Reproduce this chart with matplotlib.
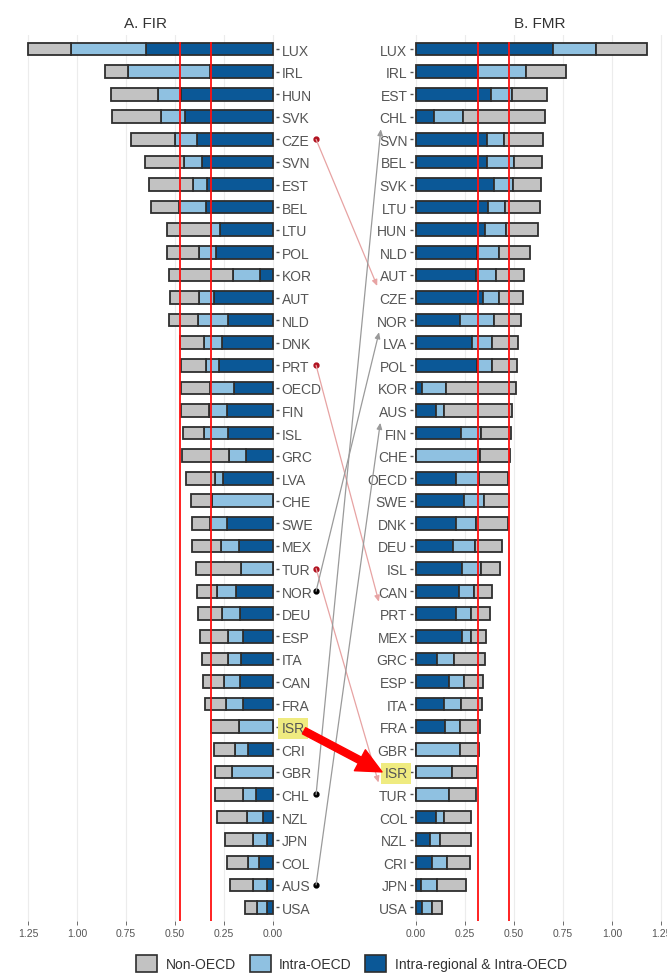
import matplotlib
matplotlib.use("Agg")
import matplotlib.pyplot as plt
from matplotlib.patches import Patch, ConnectionPatch
from matplotlib.transforms import blended_transform_factory

plt.rcParams["font.family"] = ["Liberation Sans", "DejaVu Sans"]

# ---- data (shares) ----
fir_countries = ["LUX", "IRL", "HUN", "SVK", "CZE", "SVN", "EST", "BEL", "LTU", "POL",
                 "KOR", "AUT", "NLD", "DNK", "PRT", "OECD", "FIN", "ISL", "GRC", "LVA",
                 "CHE", "SWE", "MEX", "TUR", "NOR", "DEU", "ESP", "ITA", "CAN", "FRA",
                 "ISR", "CRI", "GBR", "CHL", "NZL", "JPN", "COL", "AUS", "USA"]
fir_regional = [0.65, 0.32, 0.47, 0.45, 0.39, 0.36, 0.335, 0.34, 0.27, 0.29,
                0.065, 0.30, 0.23, 0.26, 0.275, 0.20, 0.235, 0.23, 0.14, 0.255,
                0.0, 0.235, 0.175, 0.0, 0.19, 0.17, 0.155, 0.165, 0.17, 0.155,
                0.0, 0.125, 0.0, 0.085, 0.05, 0.03, 0.07, 0.03, 0.03]
fir_intra = [0.38, 0.42, 0.115, 0.12, 0.11, 0.095, 0.075, 0.14, 0.045, 0.085,
             0.14, 0.075, 0.15, 0.09, 0.065, 0.12, 0.09, 0.12, 0.085, 0.04,
             0.31, 0.085, 0.09, 0.165, 0.095, 0.09, 0.075, 0.065, 0.08, 0.085,
             0.175, 0.07, 0.21, 0.07, 0.085, 0.07, 0.06, 0.07, 0.05]
fir_non = [0.22, 0.115, 0.24, 0.25, 0.225, 0.2, 0.22, 0.14, 0.225, 0.165,
           0.325, 0.15, 0.15, 0.125, 0.13, 0.15, 0.145, 0.11, 0.24, 0.15,
           0.11, 0.095, 0.15, 0.23, 0.105, 0.12, 0.14, 0.13, 0.105, 0.105,
           0.14, 0.105, 0.085, 0.14, 0.15, 0.145, 0.105, 0.12, 0.065]

fmr_countries = ["LUX", "IRL", "EST", "CHL", "SVN", "BEL", "SVK", "LTU", "HUN", "NLD",
                 "AUT", "CZE", "NOR", "LVA", "POL", "KOR", "AUS", "FIN", "CHE", "OECD",
                 "SWE", "DNK", "DEU", "ISL", "CAN", "PRT", "MEX", "GRC", "ESP", "ITA",
                 "FRA", "GBR", "ISR", "TUR", "COL", "NZL", "CRI", "JPN", "USA"]
fmr_regional = [0.70, 0.315, 0.385, 0.09, 0.36, 0.36, 0.40, 0.37, 0.35, 0.31,
                0.305, 0.34, 0.225, 0.285, 0.31, 0.03, 0.10, 0.23, 0.0, 0.205,
                0.245, 0.205, 0.19, 0.235, 0.22, 0.205, 0.235, 0.105, 0.17, 0.145,
                0.15, 0.0, 0.0, 0.0, 0.10, 0.07, 0.08, 0.025, 0.03]
fmr_intra = [0.22, 0.245, 0.105, 0.15, 0.09, 0.14, 0.095, 0.085, 0.11, 0.115,
             0.105, 0.085, 0.175, 0.105, 0.08, 0.125, 0.045, 0.10, 0.325, 0.115,
             0.10, 0.10, 0.11, 0.095, 0.075, 0.075, 0.045, 0.09, 0.075, 0.085,
             0.075, 0.225, 0.185, 0.17, 0.045, 0.05, 0.08, 0.08, 0.05]
fmr_non = [0.26, 0.205, 0.18, 0.42, 0.20, 0.145, 0.145, 0.18, 0.165, 0.155,
           0.14, 0.12, 0.135, 0.13, 0.125, 0.355, 0.345, 0.155, 0.155, 0.15,
           0.13, 0.165, 0.14, 0.10, 0.095, 0.10, 0.075, 0.155, 0.095, 0.105,
           0.10, 0.095, 0.125, 0.135, 0.135, 0.16, 0.115, 0.15, 0.055]

ref_lines = [0.316, 0.474]
red_links = ["CZE", "PRT", "TUR"]
grey_links = ["NOR", "CHL", "AUS"]
highlight = "ISR"

legend_labels = ["Non-OECD", "Intra-OECD", "Intra-regional & Intra-OECD"]
c_non, c_intra, c_reg = "#c2c2c2", "#8fc1e1", "#0b5897"
edge = "#2e2e2e"
txt = "#555555"

fig = plt.figure(figsize=(6.67, 9.78), dpi=100)
W, H = 667, 978


def px_axes(x0, x1, y0, y1):
    return fig.add_axes([x0 / W, 1 - y1 / H, (x1 - x0) / W, (y1 - y0) / H])


axL = px_axes(14, 276, 36, 922)
axR = px_axes(413, 667, 36, 922)


def draw_panel(ax, countries, reg, intra, non, title):
    ypos = list(range(len(countries)))
    left3 = [a + b for a, b in zip(reg, intra)]
    kw = dict(height=0.56, edgecolor=edge, linewidth=1.3, zorder=3)
    ax.barh(ypos, reg, left=0, color=c_reg, **kw)
    ax.barh(ypos, intra, left=reg, color=c_intra, **kw)
    ax.barh(ypos, non, left=left3, color=c_non, **kw)
    ax.set_yticks(ypos)
    ax.set_yticklabels(countries, fontsize=10, color=txt)
    ax.set_ylim(38.6, -0.62)
    ax.set_xticks([0, 0.25, 0.5, 0.75, 1.0, 1.25])
    ax.set_xticklabels(["0.00", "0.25", "0.50", "0.75", "1.00", "1.25"])
    ax.tick_params(axis="x", labelsize=7.5, colors=txt, length=3, width=0.6, pad=2)
    ax.tick_params(axis="y", length=2.5, width=1.0, colors=txt, pad=1.5)
    ax.grid(axis="x", color="#ececec", linewidth=0.8, zorder=0)
    for s in ax.spines.values():
        s.set_visible(False)
    for v in ref_lines:
        ax.vlines(v, -0.31, 38.6, color="#ff1010", linewidth=1.3, zorder=5)
    ax.set_title(title, fontsize=11, color="#333333", pad=6)


def mark_label(ax):
    for t in ax.yaxis.get_major_ticks():
        for lab in (t.label1, t.label2):
            if lab.get_text() == highlight:
                lab.set_bbox(dict(facecolor="#efeb80", edgecolor="none", pad=2.5))


draw_panel(axL, fir_countries, fir_regional, fir_intra, fir_non, "A. FIR")
axL.set_xlim(1.321, -0.0153)
axL.yaxis.tick_right()
mark_label(axL)

draw_panel(axR, fmr_countries, fmr_regional, fmr_intra, fmr_non, "B. FMR")
axR.set_xlim(-0.0153, 1.281)
mark_label(axR)

# ---- links between the two rankings ----
tL = blended_transform_factory(axL.transAxes, axL.transData)
tR = blended_transform_factory(axR.transAxes, axR.transData)
xdot = 1.153
xend = -0.122

for names, lcol, dcol in [(red_links, "#e7a3a3", "#b0101e"), (grey_links, "#9a9a9a", "black")]:
    for c in names:
        yA = fir_countries.index(c)
        yB = fmr_countries.index(c)
        con = ConnectionPatch(xyA=(xdot, yA), coordsA=tL, xyB=(xend, yB), coordsB=tR,
                              arrowstyle="-|>,head_length=0.45,head_width=0.2",
                              mutation_scale=8, color=lcol, linewidth=0.9,
                              shrinkA=0, shrinkB=9, zorder=6)
        fig.add_artist(con)
        axL.plot([xdot], [yA], "o", color=dcol, markersize=3.5, transform=tL,
                 clip_on=False, zorder=7)

big = ConnectionPatch(xyA=(1.107, fir_countries.index(highlight) + 0.18), coordsA=tL,
                      xyB=(xend, fmr_countries.index(highlight)), coordsB=tR,
                      arrowstyle="simple,head_length=0.9,head_width=0.85,tail_width=0.25",
                      mutation_scale=20, color="#ff0000", shrinkA=0, shrinkB=0, zorder=8)
fig.add_artist(big)

handles = [Patch(facecolor=c, edgecolor=edge, linewidth=1.2) for c in (c_non, c_intra, c_reg)]
fig.legend(handles, legend_labels, loc="center", bbox_to_anchor=(0.527, 0.014), ncol=3,
           frameon=False, fontsize=10, handlelength=1.5, handleheight=1.5,
           columnspacing=1.0, handletextpad=0.6, labelcolor="#333333")

plt.savefig("out.png", dpi=100)
